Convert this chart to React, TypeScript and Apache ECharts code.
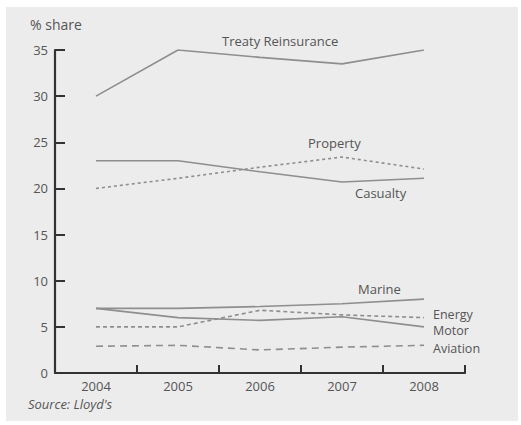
import React, { useEffect, useRef } from "react";
import * as echarts from "echarts";

const years = ["2004", "2005", "2006", "2007", "2008"];
const treaty = [30, 35, 34.2, 33.5, 35];
const property = [20, 21.1, 22.3, 23.4, 22.1];
const casualty = [23, 23, 21.8, 20.7, 21.1];
const marine = [7, 7, 7.2, 7.5, 8];
const energy = [5, 5, 6.8, 6.3, 6];
const motor = [7, 6, 5.7, 6.1, 5];
const aviation = [2.9, 3, 2.5, 2.8, 3];

const FONT = "'Open Sans', 'Noto Sans', sans-serif";
const LINE = "#8e8e8e";
const TXT = "#555555";

export default function App() {
  const ref = useRef<HTMLDivElement>(null);
  useEffect(() => {
    const chart = echarts.init(ref.current!, undefined, { renderer: "svg" });
    const mk = (name: string, data: number[], type: any, endLabel?: boolean, offY = 0) => ({
      name,
      type: "line",
      data,
      symbol: "none",
      lineStyle: { color: LINE, width: 1.6, type },
      endLabel: endLabel
        ? {
            show: true,
            formatter: name,
            color: TXT,
            fontFamily: FONT,
            fontSize: 12.5,
            lineHeight: 13,
            distance: 9,
            offset: [0, offY],
          }
        : { show: false },
      z: 3,
    });
    chart.setOption({
      animation: false,
      backgroundColor: "#ffffff",
      textStyle: { fontFamily: FONT },
      grid: { left: 55, right: 56, top: 50, bottom: 52 },
      xAxis: {
        type: "category",
        data: years,
        boundaryGap: true,
        axisLine: { lineStyle: { color: "#333333", width: 2.2 } },
        axisTick: { show: true, inside: true, length: 8, lineStyle: { color: "#333333", width: 2 } },
        axisLabel: { color: TXT, fontSize: 13, fontFamily: FONT, margin: 6 },
        splitLine: { show: false },
      },
      yAxis: {
        type: "value",
        min: 0,
        max: 35,
        interval: 5,
        axisLine: { show: true, lineStyle: { color: "#333333", width: 2.2 } },
        axisTick: { show: true, inside: true, length: 10, lineStyle: { color: "#333333", width: 2 } },
        axisLabel: { color: TXT, fontSize: 13, fontFamily: FONT, margin: 7 },
        splitLine: { show: false },
      },
      graphic: [
        { type: "rect", z: -10, shape: { x: 6, y: 7, width: 512, height: 414 }, style: { fill: "#ececec" } },
        { type: "text", x: 30, y: 17, style: { text: "% share", fill: TXT, fontSize: 14, fontFamily: FONT } },
        { type: "text", x: 222, y: 34, style: { text: "Treaty Reinsurance", fill: TXT, fontSize: 13, fontFamily: FONT } },
        { type: "text", x: 308, y: 136, style: { text: "Property", fill: TXT, fontSize: 13, fontFamily: FONT } },
        { type: "text", x: 355, y: 186, style: { text: "Casualty", fill: TXT, fontSize: 13, fontFamily: FONT } },
        { type: "text", x: 358, y: 282, style: { text: "Marine", fill: TXT, fontSize: 13, fontFamily: FONT } },
        { type: "text", x: 28, y: 397, style: { text: "Source: Lloyd's", fill: TXT, fontSize: 13, fontStyle: "italic", fontFamily: FONT } },
      ],
      series: [
        mk("Treaty Reinsurance", treaty, "solid"),
        mk("Property", property, [3, 3]),
        mk("Casualty", casualty, "solid"),
        mk("Marine", marine, "solid"),
        mk("Energy", energy, [4, 3], true, -3),
        mk("Motor", motor, "solid", true, 4),
        mk("Aviation", aviation, [7, 5], true, 3),
      ],
    });
    return () => chart.dispose();
  }, []);
  return <div ref={ref} style={{ position: "fixed", left: 0, top: 0, width: 521, height: 425 }} />;
}
